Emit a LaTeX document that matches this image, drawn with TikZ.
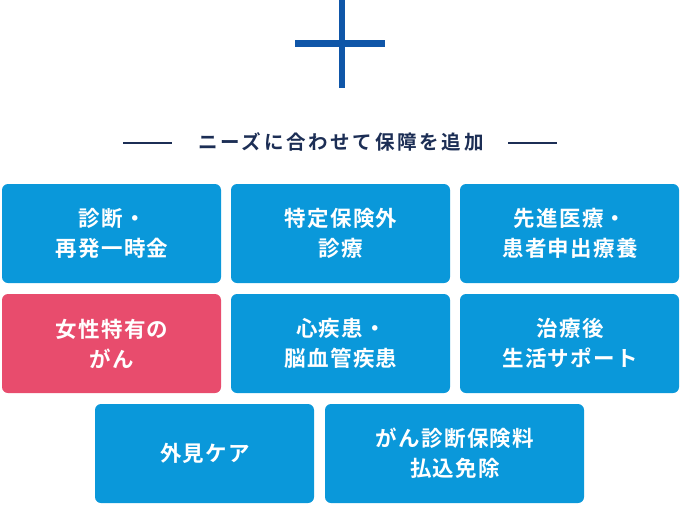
\documentclass[tikz,border=0pt]{standalone}
\usepackage{fontspec}
\newfontfamily\cjk{Noto Sans CJK JP}[BoldFont={* Bold},LetterSpace=6]
\newfontfamily\cjkt{Noto Sans CJK JP}[BoldFont={* Bold},LetterSpace=14]
\definecolor{boxblue}{HTML}{0A98DA}
\definecolor{boxpink}{HTML}{E84C6D}
\definecolor{navy}{HTML}{0F56A8}
\definecolor{titlec}{HTML}{1C2E55}
\tikzset{
  card/.style={fill=boxblue,rounded corners=6pt,draw=none},
  cardtext/.style={text=white,font=\cjk\bfseries\fontsize{21.5}{30}\selectfont,align=center}
}
\begin{document}
\begin{tikzpicture}[x=1pt,y=-1pt]
\useasboundingbox (0,0) rectangle (680,504);
\fill[navy] (339,0) rectangle (345,88);
\fill[navy] (295,40) rectangle (385,47);
\node[text=titlec,font=\cjkt\bfseries\fontsize{19.5}{20}\selectfont] (title) at (341,142) {ニーズに合わせて保障を追加};
\coordinate (l1) at (123,143); \coordinate (l2) at (172,143);
\coordinate (r1) at (508,143); \coordinate (r2) at (557,143);
\draw[titlec,line width=2pt] (l1) -- (l2);
\draw[titlec,line width=2pt] (r1) -- (r2);
\foreach \x/\y/\w/\t/\c [count=\i] in {
  2/184/219/{診断・\\再発一時金}/boxblue,
  231/184/219/{特定保険外\\診療}/boxblue,
  460/184/219/{先進医療・\\患者申出療養}/boxblue,
  2/294/219/{女性特有の\\がん}/boxpink,
  231/294/219/{心疾患・\\脳血管疾患}/boxblue,
  460/294/219/{治療後\\生活サポート}/boxblue,
  95/404/219/{外見ケア}/boxblue,
  325/404/259/{がん診断保険料\\払込免除}/boxblue}{
  \fill[card,fill=\c] (\x,\y) rectangle ++(\w,99);
  \node[cardtext] (b\i) at (\x+\w/2+0.5,\y+49.5) {\t};
}
\end{tikzpicture}
\end{document}
